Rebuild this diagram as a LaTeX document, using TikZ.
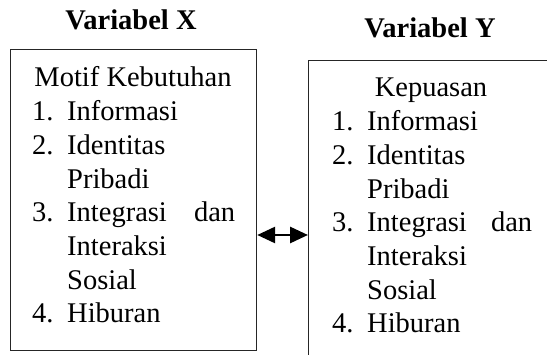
\documentclass[tikz,border=0pt]{standalone}
\usepackage{fontspec}
\setmainfont{Liberation Serif}
\usetikzlibrary{arrows.meta}
\begin{document}
\begin{tikzpicture}[x=1pt,y=1pt,
  box/.style={draw=black!85, line width=1.2pt, inner sep=0pt, anchor=north west},
  txt/.style={anchor=base west, inner sep=0pt, font=\fontsize{28.5}{33.7}\selectfont},
  ctxt/.style={anchor=base, inner sep=0pt, font=\fontsize{28.5}{33.7}\selectfont},
  ttl/.style={anchor=base, inner sep=0pt, font=\fontsize{28.5}{33.7}\selectfont\bfseries},
  tip/.style={Triangle[length=18pt,width=16pt]},
  link/.style={line width=2.8pt, {Triangle[length=18pt,width=16pt]}-{Triangle[length=18pt,width=16pt]}}]
\useasboundingbox (0,0) rectangle (547,-355);
\clip (0,0) rectangle (547,-355);
% boxes
\node[box, minimum width=246pt, minimum height=301pt] (bx) at (10,-49) {};
\node[box, minimum width=300pt, minimum height=350pt] (by) at (308,-60) {};
% titles
\node[ttl] (tx) at (131,-30) {Variabel X};
\node[ttl] (ty) at (430,-38) {Variabel Y};
% left box text
\node[ctxt] (x0) at (133,-87) {Motif Kebutuhan};
\node[txt] (x1) at (32,-120.7) {\makebox[35pt][l]{1.}Informasi};
\node[txt] (x2) at (32,-154.4) {\makebox[35pt][l]{2.}Identitas};
\node[txt] (x3) at (67,-188.1) {Pribadi};
\node[txt] (x4) at (32,-221.8) {\makebox[35pt][l]{3.}\makebox[168pt][s]{Integrasi\hfill dan}};
\node[txt] (x5) at (67,-255.5) {Interaksi};
\node[txt] (x6) at (67,-289.2) {Sosial};
\node[txt] (x7) at (32,-322.9) {\makebox[35pt][l]{4.}Hiburan};
% right box text
\node[ctxt] (y0) at (431,-97) {Kepuasan};
\node[txt] (y1) at (332,-130.7) {\makebox[35pt][l]{1.}Informasi};
\node[txt] (y2) at (332,-164.4) {\makebox[35pt][l]{2.}Identitas};
\node[txt] (y3) at (367,-198.1) {Pribadi};
\node[txt] (y4) at (332,-231.8) {\makebox[35pt][l]{3.}\makebox[165pt][s]{Integrasi\hfill dan}};
\node[txt] (y5) at (367,-265.5) {Interaksi};
\node[txt] (y6) at (367,-299.2) {Sosial};
\node[txt] (y7) at (332,-332.9) {\makebox[35pt][l]{4.}Hiburan};
% connector
\coordinate (ay) at (0,-235);
\draw[link] (bx.east |- ay) -- (by.west |- ay);
\end{tikzpicture}
\end{document}
